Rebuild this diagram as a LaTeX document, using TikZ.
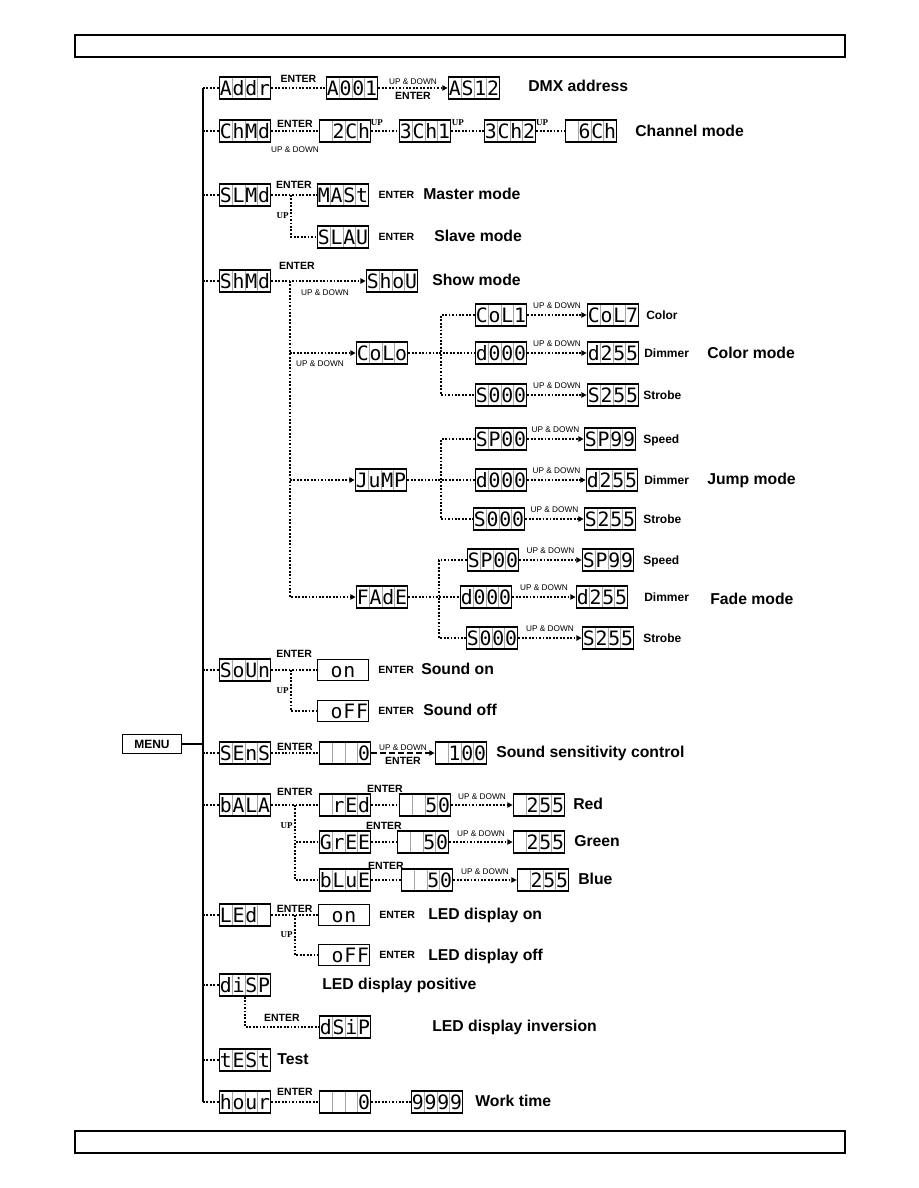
\documentclass[tikz,border=0pt]{standalone}
\usepackage{fontspec}
\setmainfont{Liberation Sans}
\newfontfamily\lcdfont{DejaVu Sans Mono}
\newfontfamily\upfont{Liberation Serif}
\usetikzlibrary{arrows.meta,calc,positioning}
\newcommand\dig[4]{\makebox[8.5pt]{#1}\makebox[8.5pt]{#2}\makebox[8.5pt]{#3}\makebox[8.5pt]{#4}}
\tikzset{
  lcd/.style={draw,line width=1.2pt,minimum width=34pt,minimum height=14.5pt,inner sep=0pt,
    text height=9.6pt,text depth=0pt,font=\lcdfont\fontsize{13.2}{13.2}\selectfont,
    path picture={\foreach \k in {1,2,3}
      \draw[black!35,line width=.4pt]
        ($(path picture bounding box.south west)!\k/4!(path picture bounding box.south east)$) --
        ($(path picture bounding box.north west)!\k/4!(path picture bounding box.north east)$);}},
  lcdplain/.style={lcd,line width=.8pt,path picture={}},
  dots/.style={line width=1.2pt,dash pattern=on 1.2pt off 1.1pt},
  go/.style={dots,-{Triangle[length=3.5pt,width=3.5pt]}},
  tag/.style={font=\bfseries\fontsize{7}{7}\selectfont,inner sep=1pt,text height=5pt,text depth=0pt},
  ud/.style={font=\fontsize{5.5}{5.5}\selectfont,inner sep=1pt,text height=4pt,text depth=0pt},
  uptag/.style={font=\upfont\bfseries\fontsize{6}{6}\selectfont,inner sep=1pt},
  mode/.style={font=\bfseries\fontsize{10.5}{12}\selectfont,anchor=west,inner sep=0pt,text height=1.5ex,text depth=.3ex},
  what/.style={font=\bfseries\fontsize{8}{9}\selectfont,anchor=west,inner sep=0pt,text height=1.5ex,text depth=.3ex},
  menubox/.style={draw,line width=.8pt,minimum width=39pt,minimum height=13pt,inner sep=0pt,font=\bfseries\fontsize{8}{8}\selectfont},
}
\begin{document}
\begin{tikzpicture}[x=0.6667pt,y=-0.6667pt]
\useasboundingbox (0,0) rectangle (918,1188);
\draw[line width=.8pt] (75,35) rectangle (845,57);
\draw[line width=.8pt] (75,1131) rectangle (845,1153);

% menu column
\coordinate (top) at (203,88);
\coordinate (bot) at (203,1102);
\node[menubox] (menu) at (152,744) {MENU};
\draw[line width=1.6pt] (top) -- (bot);
\draw[line width=1pt] (menu) -- (menu -| top);
\foreach \nm/\yy/\ga/\gb/\gc/\gd in {addr/88/A/d/d/r, chmd/131/C/h/M/d, slmd/195/S/L/M/d,
    shmd/281/S/h/M/d, soun/670/S/o/U/n, sens/753/S/E/n/S, bala/805/b/A/L/A, led/915/L/E/d/{},
    disp/985/d/i/S/P, test/1060/t/E/S/t, hour/1102/h/o/u/r}{
  \node[lcd] (\nm) at (245,\yy) {\dig{\ga}{\gb}{\gc}{\gd}};
  \draw[dots] (\nm -| top) -- (\nm);
}

% address
\node[lcd] (a001) at (352,88) {\dig A001};
\node[lcd] (as12) at (474,88) {\dig AS12};
\draw[dots] (addr) -- node[tag,above,yshift=2pt] (e1) {ENTER} (a001);
\draw[go] (a001) -- node[ud,above,yshift=1pt] (ud1) {UP \& DOWN} node[tag,below,yshift=-1pt] (e2) {ENTER} (as12);
\node[mode] (m1) at (528,87) {DMX address};

% channel mode
\node[lcd] (c2) at (345,131) {\dig{}2Ch};
\node[lcd] (c31) at (425,131) {\dig 3Ch1};
\node[lcd] (c32) at (510,131) {\dig 3Ch2};
\node[lcd] (c6) at (591,131) {\dig{}6Ch};
\draw[dots] (chmd) -- node[tag,above,yshift=1pt] (e3) {ENTER} node[ud,below=9pt] (ud2) {UP \& DOWN} (c2);
\draw[dots] (c2) -- node[uptag,above,pos=.2,yshift=2pt] (u1) {UP} (c31);
\draw[dots] (c31) -- node[uptag,above,pos=.2,yshift=2pt] (u2) {UP} (c32);
\draw[dots] (c32) -- node[uptag,above,pos=.2,yshift=2pt] (u3) {UP} (c6);
\node[mode] (m2) at (635,132) {Channel mode};

% slave / master
\coordinate (sj) at (291,195);
\node[lcd] (mast) at (343,195) {\dig MASt};
\node[lcd] (slav) at (343,237) {\dig SLAU};
\draw[dots] (slmd) -- node[tag,above,yshift=3pt] (e4) {ENTER} (mast);
\draw[dots] (sj) |- node[uptag,left,pos=.25] (u4) {UP} (slav);
\node[tag,right=5pt of mast] (e5) {ENTER};
\node[mode] (m3) at (423,195) {Master mode};
\node[tag,right=5pt of slav] (e6) {ENTER};
\node[mode] (m4) at (434,237) {Slave mode};

% show mode
\coordinate (hj) at (290,281);
\node[lcd] (show) at (392,281) {\dig ShoU};
\draw[go] (shmd) -- node[tag,above,pos=.27,yshift=6pt] (e7) {ENTER} (show);
\node[ud] (ud3) at (325,292) {UP \& DOWN};
\node[mode] (m5) at (432,281) {Show mode};
\node[lcd] (colo) at (382,353) {\dig CoLo};
\node[lcd] (jump) at (381,480) {\dig JuMP};
\node[lcd] (fade) at (382,597) {\dig FAdE};
\draw[go] (hj |- colo) -- (colo);
\draw[go] (hj |- jump) -- (jump);
\draw[go] (hj) |- (fade);
\node[ud] (ud4) at (320,363) {UP \& DOWN};
\coordinate (cj) at (441,353);
\coordinate (jj) at (441,480);
\coordinate (fj) at (439,597);

\foreach \srcn/\srcx/\dstn/\dstx/\rowy/\srct/\dstt/\what/\wx in {
    col1/501/col7/613/315/CoL1/CoL7/Color/646, cd0/501/cd2/613/353/d000/d255/Dimmer/644,
    cs0/501/cs2/613/395/S000/S255/Strobe/643, jp0/501/jp9/610/439/SP00/SP99/Speed/643,
    jd0/501/jd2/612/480/d000/d255/Dimmer/644, js0/499/js2/610/519/S000/S255/Strobe/643,
    fp0/493/fp9/608/560/SP00/SP99/Speed/643, fd0/486/fd2/602/597/d000/d255/Dimmer/644,
    fs0/492/fs2/608/638/S000/S255/Strobe/643}{
  \node[lcd] (\srcn) at (\srcx,\rowy) {\expandafter\dig\srct};
  \node[lcd] (\dstn) at (\dstx,\rowy) {\expandafter\dig\dstt};
  \draw[go] (\srcn) -- node[ud,above,yshift=3pt] (u\srcn) {UP \& DOWN} (\dstn);
  \node[what] (w\srcn) at (\wx,\rowy) {\what};
}
\draw[dots] (colo) -- (cd0);
\draw[dots] (col1) -| (cj) |- (cs0);
\draw[dots] (jump) -- (jd0);
\draw[dots] (jp0) -| (jj) |- (js0);
\draw[dots] (fade) -- (fd0);
\draw[dots] (fp0) -| (fj) |- (fs0);
\node[mode] (m6) at (707,354) {Color mode};
\node[mode] (m7) at (707,480) {Jump mode};
\node[mode] (m8) at (710,600) {Fade mode};

% sound
\coordinate (oj) at (291,670);
\node[lcdplain] (son) at (343,670) {\dig{}on{}};
\node[lcdplain] (soff) at (343,711) {\dig{}oFF};
\draw[dots] (soun) -- node[tag,above,yshift=7pt] (e8) {ENTER} (son);
\draw[dots] (oj) |- node[uptag,left,pos=.25] (u5) {UP} (soff);
\node[tag,right=5pt of son] (e9) {ENTER};
\node[mode] (m9) at (421,670) {Sound on};
\node[tag,right=5pt of soff] (e10) {ENTER};
\node[mode] (m10) at (423,711) {Sound off};

% sensitivity
\node[lcd] (s0) at (345,753) {\dig{}{}{}0};
\node[lcd] (s100) at (461,753) {\dig{}100};
\draw[dots] (sens) -- node[tag,above] (e11) {ENTER} (s0);
\draw[line width=1.1pt,dash pattern=on 3.5pt off 2.5pt,-{Triangle[length=3.5pt,width=3.5pt]}] (s0) --
  node[ud,above] (ud5) {UP \& DOWN} node[tag,below,yshift=-1pt] (e12) {ENTER} (s100);
\node[mode] (m11) at (496,753) {Sound sensitivity control};

% balance
\coordinate (bj) at (295,805);
\foreach \cn/\yy/\ct/\vx/\wx/\lb/\lx/\ey in {red/805/{}rEd/425/539/Red/573/7pt,
    gree/842/GrEE/423/539/Green/574/7pt, blue/880/bLuE/427/543/Blue/578/5.5pt}{
  \node[lcd] (\cn) at (345,\yy) {\expandafter\dig\ct};
  \node[lcd] (\cn50) at (\vx,\yy) {\dig{}{}50};
  \node[lcd] (\cn255) at (\wx,\yy) {\dig{}255};
  \draw[dots] (\cn) -- node[tag,above,yshift=\ey] (e\cn) {ENTER} (\cn50);
  \draw[go] (\cn50) -- node[ud,above,yshift=2pt] (ud\cn) {UP \& DOWN} (\cn255);
  \node[mode] (m\cn) at (\lx,\yy) {\lb};
}
\draw[dots] (bala) -- node[tag,above,yshift=5pt] (e13) {ENTER} (red);
\draw[dots] (bj) |- (gree);
\draw[dots] (bj) |- node[uptag,left,pos=.14] (u6) {UP} (blue);

% led
\coordinate (lj) at (295,915);
\node[lcdplain] (lon) at (344,915) {\dig{}on{}};
\node[lcdplain] (loff) at (344,955) {\dig{}oFF};
\draw[dots] (led) -- node[tag,above] (e14) {ENTER} (lon);
\draw[dots] (lj) |- node[uptag,left,pos=.25] (u7) {UP} (loff);
\node[tag,right=5pt of lon] (e15) {ENTER};
\node[mode] (m12) at (428,915) {LED display on};
\node[tag,right=5pt of loff] (e16) {ENTER};
\node[mode] (m13) at (428,956) {LED display off};

% display
\node[lcd] (dsip) at (345,1027) {\dig dSiP};
\draw[dots] (disp) |- node[tag,above,pos=.75,yshift=2pt] (e17) {ENTER} (dsip);
\node[mode] (m14) at (322,985) {LED display positive};
\node[mode] (m15) at (432,1027) {LED display inversion};
\node[mode] (m16) at (277,1060) {Test};

% hours
\node[lcd] (h0) at (345,1102) {\dig{}{}{}0};
\node[lcd] (h9) at (437,1102) {\dig 9999};
\draw[dots] (hour) -- node[tag,above,yshift=3pt] (e18) {ENTER} (h0);
\draw[dots] (h0) -- (h9);
\node[mode] (m17) at (475,1102) {Work time};
\end{tikzpicture}
\end{document}
